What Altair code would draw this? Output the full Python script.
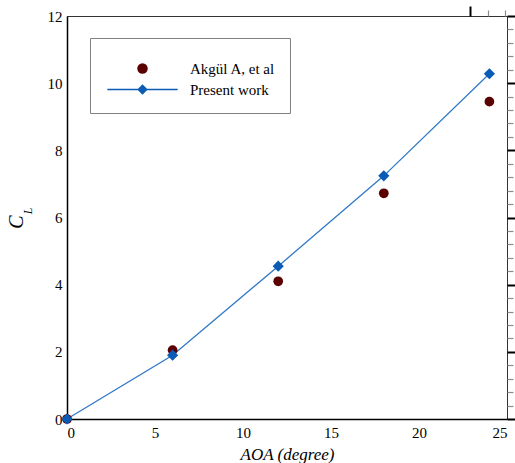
import altair as alt
import pandas as pd

# ---- data ----
aoa = [0, 6, 12, 18, 24]
akgul_cl = [0.0, 2.05, 4.10, 6.72, 9.45]
present_cl = [0.0, 1.90, 4.55, 7.24, 10.28]
series_names = ["Akgül A, et al", "Present work"]

x_major = [0, 5, 10, 15, 20, 25]
y_major = [0, 2, 4, 6, 8, 10, 12]
x_minor = [v for v in range(0, 26) if v % 5 != 0]
y_minor = [round(v * 0.4, 1) for v in range(0, 31) if v % 5 != 0]

RED = "#5a0000"
BLUE = "#0a5bb5"
LINE_BLUE = "#3079c6"
FONT = "Liberation Serif, Times New Roman, serif"
W, H = 440, 403

DIAMOND_LINE = "M0,-1L1,0L0,1L-1,0Z M-6.7,-0.14L6.7,-0.14L6.7,0.14L-6.7,0.14Z"
LEGEND_SPACER = "\u00a0" * 86

df_a = pd.DataFrame({"aoa": aoa, "cl": akgul_cl, "series": series_names[0]})
df_p = pd.DataFrame({"aoa": aoa, "cl": present_cl, "series": series_names[1]})

xs = alt.Scale(domain=[0, 25], nice=False, zero=False)
ys = alt.Scale(domain=[0, 12], nice=False, zero=False)

x_axis = alt.Axis(values=x_major, ticks=False, grid=False, labelPadding=6,
                  labelFont=FONT, labelFontSize=15, labelColor="black",
                  domainColor="black", domainWidth=1.5, title="AOA (degree)",
                  titleFont=FONT, titleFontSize=17, titleColor="black",
                  titleFontStyle="italic", titleFontWeight="normal", titlePadding=6)
y_axis = alt.Axis(values=y_major, ticks=False, grid=False, labelPadding=5,
                  labelFont=FONT, labelFontSize=15, labelColor="black",
                  domainColor="black", domainWidth=1.5, title=None)


def inward_axis(orient, position, values, size, width, color):
    return alt.Axis(orient=orient, position=position, values=values, labels=False,
                    domain=False, ticks=True, tickSize=size, tickWidth=width,
                    tickColor=color, grid=False, title=None)


line = alt.Chart(df_p).mark_line(color=LINE_BLUE, strokeWidth=1.3).encode(
    x=alt.X("aoa:Q", scale=xs, axis=x_axis),
    y=alt.Y("cl:Q", scale=ys, axis=y_axis),
)
circles = alt.Chart(df_a).mark_point(filled=True, shape="circle", size=95, color=RED, opacity=1).encode(
    x=alt.X("aoa:Q", scale=xs, axis=None), y=alt.Y("cl:Q", scale=ys, axis=None)
)
diamonds = alt.Chart(df_p).mark_point(filled=True, shape="diamond", size=125, color=BLUE, opacity=1).encode(
    x=alt.X("aoa:Q", scale=xs, axis=None), y=alt.Y("cl:Q", scale=ys, axis=None)
)

# inward ticks: extra axes drawn at the bottom / left edges pointing into the plot
major_ticks = alt.Chart(df_p).mark_point(opacity=0).encode(
    x=alt.X("aoa:Q", scale=xs, axis=inward_axis("top", H, x_major, 10, 2, "black")),
    y=alt.Y("cl:Q", scale=ys, axis=inward_axis("right", 0, y_major, 10, 2, "black")),
)
minor_ticks = alt.Chart(df_a).mark_point(opacity=0).encode(
    x=alt.X("aoa:Q", scale=xs, axis=inward_axis("top", H, x_minor, 6, 1.2, "#8c8c8c")),
    y=alt.Y("cl:Q", scale=ys, axis=inward_axis("right", 0, y_minor, 6, 1.2, "#8c8c8c")),
)

legend_layer = alt.Chart(pd.concat([df_a, df_p])).transform_filter("false").mark_point(
    filled=True, opacity=1
).encode(
    shape=alt.Shape("series:N", scale=alt.Scale(domain=series_names, range=["circle", DIAMOND_LINE]),
                    title=LEGEND_SPACER),
    color=alt.Color("series:N", scale=alt.Scale(domain=series_names, range=[RED, BLUE]),
                    title=LEGEND_SPACER),
)

# y title C with subscript L
c_title = alt.Chart(pd.DataFrame({"t": ["C"]})).mark_text(
    font=FONT, fontSize=20, fontStyle="italic", angle=270, align="center", baseline="middle"
).encode(text="t:N", x=alt.value(-50), y=alt.value(206))
l_title = alt.Chart(pd.DataFrame({"t": ["L"]})).mark_text(
    font=FONT, fontSize=12, fontStyle="italic", angle=270, align="center", baseline="middle"
).encode(text="t:N", x=alt.value(-39), y=alt.value(195))

chart = alt.layer(
    line, circles, diamonds, minor_ticks, major_ticks, legend_layer, c_title, l_title
).resolve_axis(
    x="independent", y="independent"
).properties(
    width=W, height=H,
    autosize=alt.AutoSizeParams(type="none"),
    padding={"left": 67, "top": 16, "right": 8, "bottom": 44},
).configure(
    font=FONT
).configure_view(
    stroke="#333333", strokeWidth=1
).configure_axis(
    labelFont=FONT, labelFontSize=15, labelColor="black",
    titleFont=FONT, titleFontSize=17, titleColor="black",
).configure_legend(
    orient="none", legendX=23, legendY=22,
    padding=15, strokeColor="#808080", fillColor="white",
    titleFont=FONT, titleFontSize=8, titlePadding=0,
    labelFont=FONT, labelFontSize=15, labelColor="black",
    symbolSize=110, symbolStrokeWidth=0, labelOffset=40, symbolOffset=30,
    rowPadding=5, labelLimit=300,
)

chart.save("out.html", embed_options={"renderer": "svg", "actions": False})
